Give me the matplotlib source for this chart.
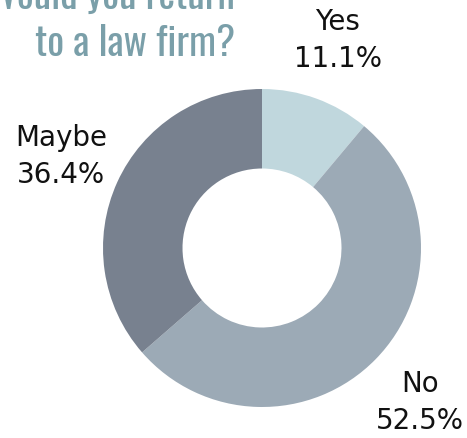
import numpy as np
import matplotlib
matplotlib.use("Agg")
from matplotlib import pyplot as plt

labels = ["Yes", "No", "Maybe"]
shares = [11.1, 52.5, 36.4]
colors = ["#c0d7dd", "#9caab6", "#78818f"]

TITLE_LINES = ["Would you return", "to a law firm?"]
TITLE_COLOR = "#7a9fa9"

W, H, DPI = 467, 438, 100
CX, CY, R = 262, 190, 159  # pie centre and radius in pixels (from bottom left)

fig = plt.figure(figsize=(W / DPI, H / DPI), dpi=DPI)
ax = fig.add_axes([0, 0, 1, 1])

wedges, _ = ax.pie(shares, colors=colors, startangle=90, counterclock=False,
                   radius=1, wedgeprops=dict(width=0.5, linewidth=0))
ax.set_aspect("auto")
ax.set_xlim(-CX / R, (W - CX) / R)
ax.set_ylim(-CY / R, (H - CY) / R)
ax.axis("off")

# labels sit outside each wedge, on its middle angle
for w, name, pct in zip(wedges, labels, shares):
    mid = np.deg2rad((w.theta1 + w.theta2) / 2)
    x, y = 1.39 * np.cos(mid), 1.39 * np.sin(mid)
    ax.text(x, y, f"{name}\n{pct:.1f}%", ha="center", va="center",
            fontsize=20, linespacing=1.4, color="#111111",
            family="DejaVu Sans")

title_font = ["Oswald", "DejaVu Sans"]
fig.text(235 / W, (H - 9) / H, TITLE_LINES[0], ha="right", va="baseline",
         fontsize=28.5, weight=300, color=TITLE_COLOR, family=title_font)
fig.text(235 / W, (H - 56) / H, TITLE_LINES[1], ha="right", va="baseline",
         fontsize=28.5, weight=300, color=TITLE_COLOR, family=title_font)

fig.savefig("out.png", dpi=DPI)
